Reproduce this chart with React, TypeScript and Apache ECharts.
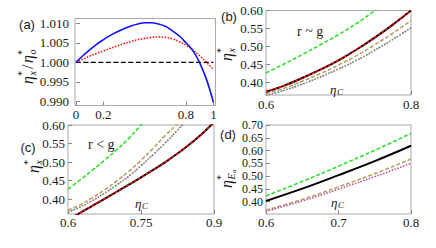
import React, { useEffect, useRef } from "react";
import * as echarts from "echarts";

// ---------- data ----------
// panel (a)
const etaA = [0, 0.05, 0.1, 0.15, 0.2, 0.25, 0.3, 0.35, 0.4, 0.45, 0.5, 0.55, 0.6, 0.65, 0.7, 0.75, 0.8, 0.85, 0.9, 0.95, 1.0];
const blueA = [1.0, 1.0017, 1.0032, 1.0046, 1.0058, 1.0069, 1.0078, 1.0086, 1.0093, 1.0098, 1.0101, 1.0101, 1.0098, 1.0092, 1.0081, 1.0068, 1.005, 1.003, 0.9999, 0.9956, 0.9898];
const redA = [1.0, 1.0008, 1.0016, 1.0023, 1.0029, 1.0036, 1.0042, 1.0048, 1.0053, 1.0058, 1.0061, 1.0064, 1.0065, 1.0064, 1.006, 1.0053, 1.0044, 1.0032, 1.0017, 1.0, 0.9982];
const etaAEnds = [0, 1];
const blackA = [1.0, 1.0];
const xTicksA = [0, 0.2, 0.8, 1];
const yTicksA = [0.99, 0.995, 1.0, 1.005, 1.01];

// panel (b)
const etaB = [0.6, 0.625, 0.65, 0.675, 0.7, 0.725, 0.75, 0.775, 0.8];
const greenB = [0.427, 0.452, 0.478, 0.505, 0.533, 0.564, 0.6, 0.638, 0.68];
const redB = [0.375, 0.392, 0.413, 0.436, 0.462, 0.492, 0.525, 0.561, 0.6];
const tanB = [0.37, 0.385, 0.404, 0.425, 0.449, 0.475, 0.505, 0.537, 0.572];
const purpleB = [0.365, 0.379, 0.396, 0.416, 0.438, 0.462, 0.49, 0.52, 0.552];
const xTicksB = [0.6, 0.8];
const yTicksB = [0.4, 0.45, 0.5, 0.55, 0.6];

// panel (c)
const etaC = [0.6, 0.625, 0.65, 0.675, 0.7, 0.725, 0.75, 0.775, 0.8, 0.825, 0.85, 0.875, 0.9];
const greenC = [0.427, 0.452, 0.478, 0.505, 0.533, 0.564, 0.6, 0.638, 0.68];
const tanC = [0.37, 0.385, 0.404, 0.425, 0.449, 0.475, 0.505, 0.537, 0.572, 0.603, 0.64];
const purpleC = [0.365, 0.379, 0.396, 0.416, 0.438, 0.462, 0.49, 0.52, 0.552, 0.586, 0.622];
const redC = [0.345, 0.363, 0.382, 0.401, 0.42, 0.439, 0.459, 0.479, 0.5, 0.523, 0.548, 0.576, 0.607];
const xTicksC = [0.6, 0.75, 0.9];
const yTicksC = [0.4, 0.45, 0.5, 0.55, 0.6];

// panel (d)
const etaD = [0.6, 0.65, 0.7, 0.75, 0.8];
const greenD = [0.423, 0.479, 0.539, 0.601, 0.667];
const blackD = [0.403, 0.451, 0.504, 0.559, 0.619];
const tanD = [0.367, 0.409, 0.458, 0.51, 0.567];
const purpleD = [0.363, 0.403, 0.449, 0.498, 0.55];
const xTicksD = [0.6, 0.7, 0.8];
const yTicksD = [0.4, 0.45, 0.5, 0.55, 0.6, 0.65, 0.7];

// ---------- styles ----------
const SERIF = "Liberation Serif, serif";
const SANS = "Liberation Sans, sans-serif";
const TXT = "#1a1a1a";
const FRAME = "#a8a8a8";
const BLUE = "#1010ff";
const RED = "#ff1010";
const GREEN = "#30e030";
const TAN = "#b9a068";
const PURPLE = "#b0509c";

const pairs = (xs: number[], ys: number[]) => ys.map((y, i) => [xs[i], y]);

function line(name: string, xs: number[], ys: number[], idx: number, color: string, type: any, width: number, z = 2) {
  return {
    name,
    type: "line",
    xAxisIndex: idx,
    yAxisIndex: idx,
    data: pairs(xs, ys),
    showSymbol: false,
    smooth: 0.4,
    clip: true,
    z,
    lineStyle: { color, type, width },
  };
}

function axis(idx: number, min: number, max: number, ticks: number[], fmt: (v: number) => string, margin: number, size = 13) {
  return {
    type: "value",
    gridIndex: idx,
    min,
    max,
    axisLine: { show: false },
    splitLine: { show: false },
    axisTick: { show: true, inside: true, length: 4, customValues: ticks, lineStyle: { color: "#888" } },
    axisLabel: {
      customValues: ticks,
      formatter: fmt,
      fontFamily: SERIF,
      fontSize: size,
      color: TXT,
      margin,
      hideOverlap: false,
    },
  };
}

type Part = { t: string; x: number; y: number; s: number; it?: boolean };
function txt(p: Part) {
  return {
    type: "text",
    x: p.x,
    y: p.y,
    style: {
      text: p.t,
      fontFamily: SERIF,
      fontSize: p.s,
      fontStyle: p.it ? "italic" : "normal",
      fill: TXT,
      align: "left",
      verticalAlign: "middle",
    },
  };
}
function rotated(cx: number, cy: number, parts: Part[]) {
  return { type: "group", x: cx, y: cy, rotation: Math.PI / 2, children: parts.map(txt) };
}
function plain(cx: number, cy: number, parts: Part[]) {
  return { type: "group", x: cx, y: cy, children: parts.map(txt) };
}
function panelLabel(t: string, x: number, y: number) {
  return {
    type: "text",
    x,
    y,
    style: { text: t, fontFamily: SANS, fontSize: 13, fill: TXT, align: "center", verticalAlign: "middle" },
  };
}

const f0 = (v: number) => String(parseFloat(v.toFixed(3)));
const f2 = (v: number) => v.toFixed(2);
const f3 = (v: number) => v.toFixed(3);

const etaStarX: Part[] = [
  { t: "η", x: -7, y: 0, s: 16, it: true },
  { t: "*", x: 1, y: -6, s: 10 },
  { t: "x", x: 1.5, y: 5, s: 10, it: true },
];
const etaC_: Part[] = [
  { t: "η", x: -6, y: 0, s: 13, it: true },
  { t: "C", x: 1, y: 3, s: 9, it: true },
];

export default function App() {
  const ref = useRef<HTMLDivElement>(null);
  useEffect(() => {
    if (!ref.current) return;
    const chart = echarts.init(ref.current, undefined, { renderer: "svg" });
    const option: any = {
      animation: false,
      textStyle: { fontFamily: SERIF },
      grid: [
        { left: 75, top: 18.5, width: 140.5, height: 87, show: true, borderColor: FRAME, borderWidth: 1 },
        { left: 266, top: 10.5, width: 145, height: 84.5, show: true, borderColor: FRAME, borderWidth: 1 },
        { left: 68, top: 125, width: 146, height: 89, show: true, borderColor: FRAME, borderWidth: 1 },
        { left: 266, top: 125, width: 145, height: 89, show: true, borderColor: FRAME, borderWidth: 1 },
      ],
      xAxis: [
        axis(0, -0.007, 1.015, xTicksA, f0, 2),
        axis(1, 0.6, 0.8, xTicksB, f0, 3),
        axis(2, 0.6, 0.9, xTicksC, f0, 2),
        axis(3, 0.6, 0.8, xTicksD, f0, 2),
      ],
      yAxis: [
        axis(0, 0.989, 1.0112, yTicksA, f3, 6),
        axis(1, 0.366, 0.6, yTicksB, f2, 3),
        axis(2, 0.36, 0.6, yTicksC, f2, 3),
        axis(3, 0.352, 0.7, yTicksD, f2, 3, 12),
      ],
      series: [
        // (a)
        line("a-black", etaAEnds, blackA, 0, "#000", [5, 2.5], 1.3, 2),
        line("a-red", etaA, redA, 0, RED, [1.5, 1.5], 1.6, 3),
        line("a-blue", etaA, blueA, 0, BLUE, "solid", 1.6, 4),
        // (b)
        line("b-green", etaB, greenB, 1, GREEN, [4, 2], 1.6),
        line("b-purple", etaB, purpleB, 1, PURPLE, [1.5, 1.5], 1.6),
        line("b-purple-g", etaB, purpleB, 1, GREEN, [1.2, 3], 1.2, 3),
        line("b-tan", etaB, tanB, 1, TAN, [4, 2], 1.6),
        line("b-black", etaB, redB, 1, "#000", "solid", 2, 3),
        line("b-red", etaB, redB, 1, RED, [2.5, 2], 1.6, 4),
        // (c)
        line("c-green", etaB, greenC, 2, GREEN, [4, 2], 1.6),
        line("c-purple", etaC.slice(0, 11), purpleC, 2, PURPLE, [1.5, 1.5], 1.6),
        line("c-purple-g", etaC.slice(0, 11), purpleC, 2, GREEN, [1.2, 3], 1.2, 3),
        line("c-tan", etaC.slice(0, 11), tanC, 2, TAN, [4, 2], 1.6),
        line("c-black", etaC, redC, 2, "#000", "solid", 2, 3),
        line("c-red", etaC, redC, 2, RED, [2.5, 2], 1.6, 4),
        // (d)
        line("d-green", etaD, greenD, 3, GREEN, [4, 2], 1.6),
        line("d-black", etaD, blackD, 3, "#000", "solid", 2),
        line("d-tan", etaD, tanD, 3, TAN, [4, 2], 1.6),
        line("d-purple", etaD, purpleD, 3, PURPLE, [1.5, 1.5], 1.6),
      ],
      graphic: [
        panelLabel("(a)", 27, 24),
        panelLabel("(b)", 229, 16),
        panelLabel("(c)", 28, 147),
        panelLabel("(d)", 228, 134),
        rotated(27, 64, [
          { t: "η", x: -20, y: 0, s: 16, it: true },
          { t: "*", x: -12, y: -6, s: 10 },
          { t: "x", x: -11.5, y: 5, s: 10, it: true },
          { t: "/", x: -5, y: 0, s: 16 },
          { t: "η", x: 1, y: 0, s: 16, it: true },
          { t: "*", x: 9, y: -6, s: 10 },
          { t: "o", x: 9.5, y: 5, s: 10, it: true },
        ]),
        rotated(226, 54, etaStarX),
        rotated(33, 166, etaStarX),
        rotated(226, 178, [
          { t: "η", x: -10, y: 0, s: 16, it: true },
          { t: "*", x: -2, y: -6, s: 10 },
          { t: "E", x: -1.5, y: 5, s: 10, it: true },
          { t: "a", x: 5, y: 8, s: 7, it: true },
        ]),
        plain(311, 31, [{ t: "r ~ g", x: -14, y: 0, s: 14 }]),
        plain(102, 144, [{ t: "r < g", x: -14, y: 0, s: 14 }]),
        plain(336, 89, etaC_),
        plain(141, 203, etaC_),
        plain(337, 202, etaC_),
      ],
    };
    chart.setOption(option);
    return () => chart.dispose();
  }, []);
  return (
    <div
      ref={ref}
      style={{ position: "fixed", left: 0, top: 0, width: 436, height: 248, background: "#fff" }}
    />
  );
}
